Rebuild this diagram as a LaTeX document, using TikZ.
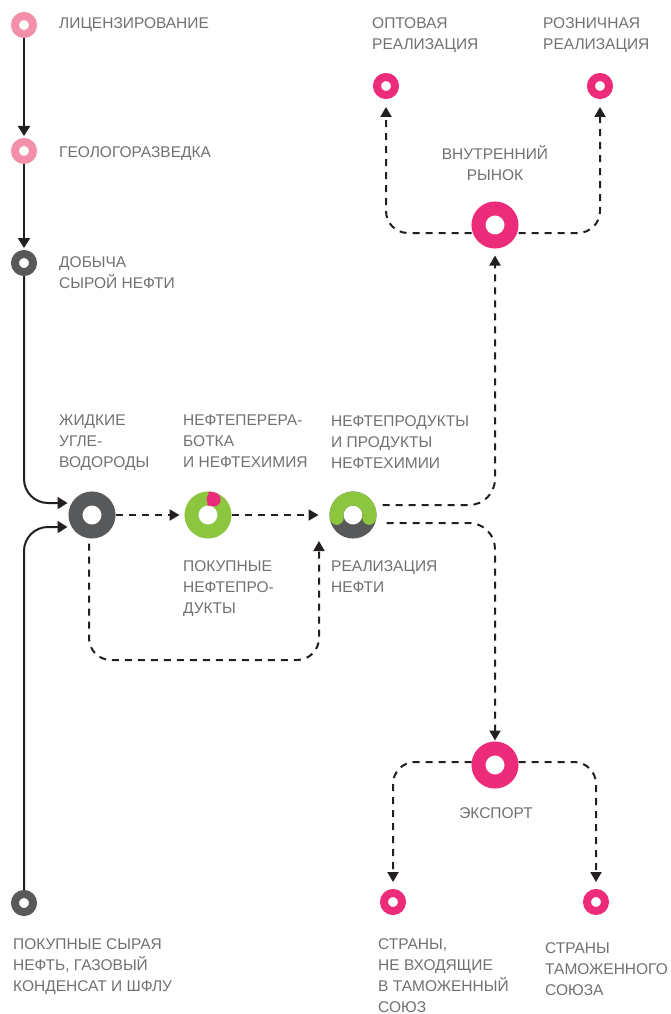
\documentclass[tikz,border=0pt]{standalone}
\usepackage{fontspec}
\setmainfont{Liberation Sans}
\usepackage{tikz}
\usetikzlibrary{arrows.meta,positioning,calc}
\definecolor{lightpink}{HTML}{F48FAB}
\definecolor{hotpink}{HTML}{EC2B7A}
\definecolor{darkgrey}{HTML}{58595B}
\definecolor{leafgreen}{HTML}{8CC63F}
\definecolor{labelgrey}{HTML}{707173}
\definecolor{linkblack}{HTML}{231F20}

\begin{document}
\begin{tikzpicture}[x=1pt, y=1pt,
        bigring/.style={circle, draw=#1, line width=14pt, minimum size=33pt, inner sep=0pt},
        smallring/.style={circle, draw=#1, line width=8pt, minimum size=18pt, inner sep=0pt},
        txt/.style={anchor=north west, align=left, inner sep=0pt, text=labelgrey, font=\fontsize{15.5}{21}\selectfont},
        solidlink/.style={draw=linkblack, line width=2pt, -{Triangle[width=12pt,length=10pt]}},
        dashlink/.style={draw=linkblack, line width=2pt, dash pattern=on 7pt off 6pt, rounded corners=22pt, -{Triangle[width=11pt,length=10pt]}}]
        \def\bandr{16.5pt}
        \useasboundingbox (0,0) rectangle (670,-1014);

        \node(lic) [smallring=lightpink] at (24,-25) {};
        \node(geo) [smallring=lightpink] at (24,-151) {};
        \node(dob) [smallring=darkgrey] at (24,-263) {};
        \node(pks) [smallring=darkgrey] at (24,-903) {};
        \node(gvr) [bigring=darkgrey] at (92,-515) {};
        \node(npz) [bigring=leafgreen] at (208,-515) {};
        \node(real) [bigring=darkgrey] at (353,-515) {};
        \node(vr) [bigring=hotpink] at (495,-225) {};
        \node(opt) [smallring=hotpink] at (386,-86) {};
        \node(roz) [smallring=hotpink] at (600,-86) {};
        \node(exp) [bigring=hotpink] at (495,-765) {};
        \node(sng) [smallring=hotpink] at (393,-902) {};
        \node(tam) [smallring=hotpink] at (596,-902) {};

        \draw[hotpink, line width=14pt] ([shift={(90:\bandr)}]npz.center) arc[start angle=90, end angle=70, radius=\bandr];
        \fill[hotpink] ([shift={(70:\bandr)}]npz.center) circle[radius=7pt];
        \draw[leafgreen, line width=14pt, line cap=round] ([shift={(190:\bandr)}]real.center) arc[start angle=190, end angle=-10, radius=\bandr];

        \draw[solidlink, shorten >=2pt] (lic) -- (geo);
        \draw[solidlink, shorten >=2pt] (geo) -- (dob);
        \draw[solidlink, rounded corners=24pt, shorten >=1pt] (dob) |- ([yshift=12pt]gvr.west);
        \draw[solidlink, rounded corners=24pt, shorten >=1pt] (pks) |- ([yshift=-12pt]gvr.west);

        \coordinate (loopr) at (319,-660);
        \coordinate (realin) at (319,-541);
        \draw[dashlink, shorten >=5pt] (gvr) -- (npz);
        \draw[dashlink, shorten >=11pt] (npz) -- (real);
        \draw[dashlink, shorten <=5pt] ([xshift=-3pt]gvr.south) |- (loopr) -- (realin);
        \draw[dashlink, rounded corners=26pt, shorten >=7pt] ([xshift=6pt,yshift=10pt]real.east) -| (vr);
        \draw[dashlink, rounded corners=26pt, shorten >=1pt] ([xshift=10pt,yshift=-8pt]real.east) -| (exp);
        \draw[dashlink, shorten >=8pt] ([yshift=-8pt]vr.west) -| (opt);
        \draw[dashlink, shorten >=8pt] ([yshift=-8pt]vr.east) -| (roz);
        \draw[dashlink, shorten >=7pt] ([yshift=3pt]exp.west) -| (sng);
        \draw[dashlink, shorten >=7pt] ([yshift=3pt]exp.east) -| (tam);

        \node(liclabel) [txt] at (59,-17) {ЛИЦЕНЗИРОВАНИЕ};
        \node(geolabel) [txt] at (59,-146) {ГЕОЛОГОРАЗВЕДКА};
        \node(doblabel) [txt] at (59,-256) {ДОБЫЧА\\СЫРОЙ НЕФТИ};
        \node(gvrlabel) [txt] at (59,-415) {ЖИДКИЕ\\УГЛЕ-\\ВОДОРОДЫ};
        \node(npzlabel) [txt] at (183,-415) {НЕФТЕПЕРЕРА-\\БОТКА\\И НЕФТЕХИМИЯ};
        \node(prodlabel) [txt] at (331,-415) {НЕФТЕПРОДУКТЫ\\И ПРОДУКТЫ\\НЕФТЕХИМИИ};
        \node(pnplabel) [txt] at (183,-560) {ПОКУПНЫЕ\\НЕФТЕПРО-\\ДУКТЫ};
        \node(reallabel) [txt] at (331,-560) {РЕАЛИЗАЦИЯ\\НЕФТИ};
        \node(optlabel) [txt] at (372,-17) {ОПТОВАЯ\\РЕАЛИЗАЦИЯ};
        \node(rozlabel) [txt] at (543,-17) {РОЗНИЧНАЯ\\РЕАЛИЗАЦИЯ};
        \node(vrlabel) [txt, anchor=north, align=center] at (495,-145.5) {ВНУТРЕННИЙ\\РЫНОК};
        \node(explabel) [txt, anchor=north] at (496,-807) {ЭКСПОРТ};
        \node(pkslabel) [txt] at (13,-938) {ПОКУПНЫЕ СЫРАЯ\\НЕФТЬ, ГАЗОВЫЙ\\КОНДЕНСАТ И ШФЛУ};
        \node(snglabel) [txt] at (378,-938) {СТРАНЫ,\\НЕ ВХОДЯЩИЕ\\В ТАМОЖЕННЫЙ\\СОЮЗ};
        \node(tamlabel) [txt] at (545,-942) {СТРАНЫ\\ТАМОЖЕННОГО\\СОЮЗА};
\end{tikzpicture}
\end{document}
